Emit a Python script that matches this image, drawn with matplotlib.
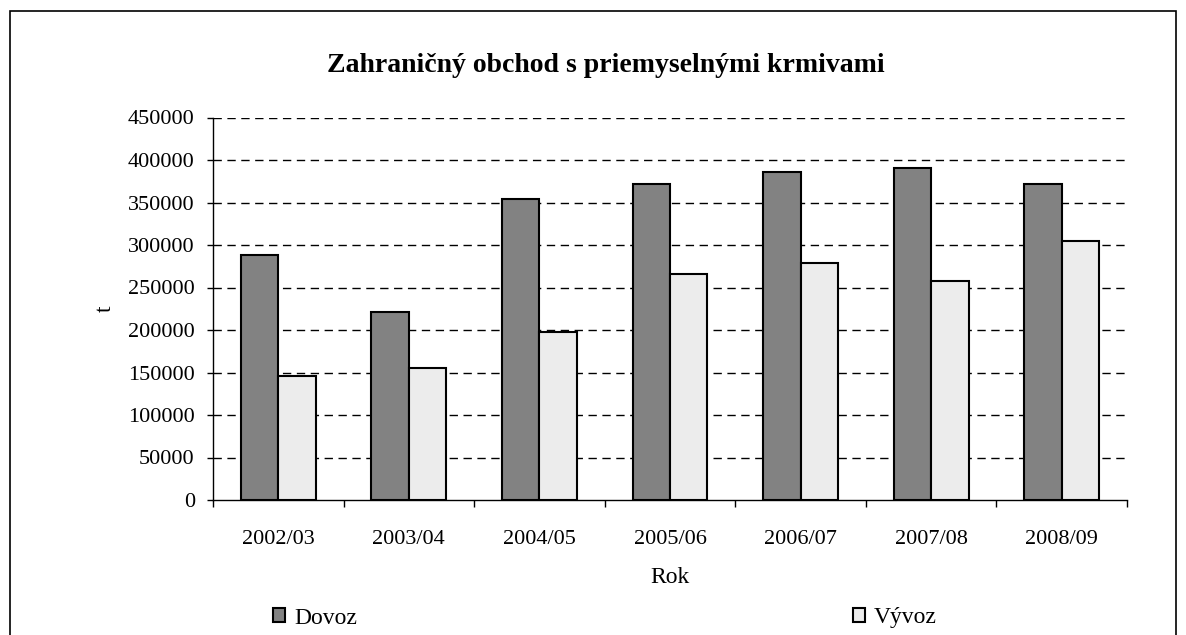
import matplotlib
matplotlib.use("Agg")
import matplotlib.pyplot as plt
import numpy as np
from matplotlib.patches import Rectangle

years = ["2002/03", "2003/04", "2004/05", "2005/06", "2006/07", "2007/08", "2008/09"]
dovoz = [288700, 220900, 354000, 371600, 386000, 390400, 371600]
vyvoz = [146100, 154800, 197700, 266400, 279300, 258200, 304200]
yticks = [0, 50000, 100000, 150000, 200000, 250000, 300000, 350000, 400000, 450000]

plt.rcParams['font.family'] = ['Liberation Serif', 'DejaVu Serif']

W, H = 1186, 635
fig = plt.figure(figsize=(W / 100, H / 100), dpi=100)
ax = fig.add_axes([213 / W, 1 - 500 / H, 914 / W, (500 - 117.5) / H])

x = np.arange(len(years))
bw = 0.287
ax.bar(x - bw / 2, dovoz, bw, color='#828282', edgecolor='black', linewidth=1.5, label='Dovoz', zorder=3)
ax.bar(x + bw / 2, vyvoz, bw, color='#ececec', edgecolor='black', linewidth=1.5, label='Vývoz', zorder=3)

ax.set_xlim(-0.5, len(years) - 0.5)
ax.set_ylim(0, 450000)
ax.set_yticks(yticks)
ax.set_yticklabels([str(v) for v in yticks], fontsize=16)
ax.set_xticks(x)
ax.set_xticklabels(years, fontsize=16)
ax.set_xticks(np.arange(-0.5, len(years)), minor=True)
ax.tick_params(axis='x', which='major', length=0, pad=21.5)
ax.tick_params(axis='x', which='minor', length=5, direction='out', width=1)
ax.tick_params(axis='y', length=4.5, direction='out', width=1, pad=8.6)

for v in yticks[1:]:
    ax.axhline(v, color='black', linewidth=1, linestyle=(0, (6, 4)), zorder=1)

ax.spines['top'].set_visible(False)
ax.spines['right'].set_visible(False)
ax.spines['left'].set_linewidth(1)
ax.spines['bottom'].set_linewidth(1)

fig.text(605.5 / W, 1 - 66 / H, "Zahraničný obchod s priemyselnými krmivami",
         fontsize=20, fontweight='bold', ha='center', va='center')
ax.set_ylabel("t", fontsize=17, labelpad=9)
ax.set_xlabel("Rok", fontsize=17, labelpad=13)

leg = fig.legend(loc='center left', bbox_to_anchor=(273 / W, 1 - 618 / H), ncol=2, frameon=False,
                 fontsize=17, handlelength=0.51, handleheight=0.51, handletextpad=0.38,
                 columnspacing=21.0, borderaxespad=0, borderpad=0)

fig.patches.append(Rectangle((10 / W, -0.1), (1176 - 10) / W, 1.1 - 11.5 / H,
                             transform=fig.transFigure, fill=False, edgecolor='black', linewidth=1.2))

fig.savefig("out.png", dpi=100)
